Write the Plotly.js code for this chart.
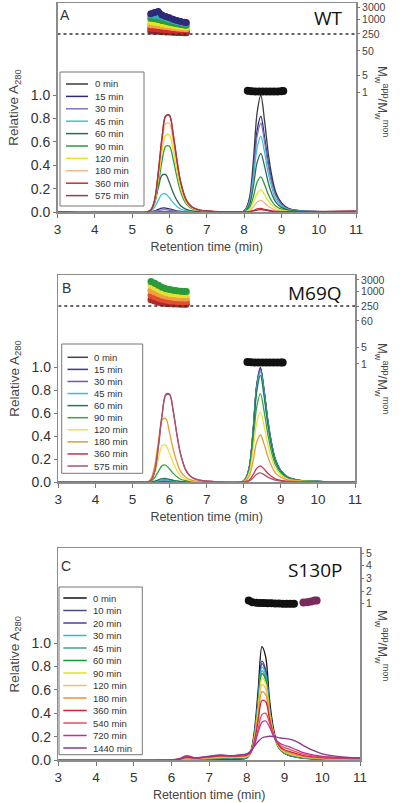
<!DOCTYPE html>
<html><head><meta charset="utf-8">
<script src="https://cdn.plot.ly/plotly-3.0.1.min.js"></script>
<style>html,body{margin:0;padding:0;background:#fff}#chart{width:400px;height:803px}</style>
</head><body><div id="chart"></div>
<script>
// ---------- Panel A / B chromatograms (retention time grid, min) ----------
const rtAB = [3, 5.4, 5.5, 5.6, 5.7, 5.8, 5.9, 6.0, 6.1, 6.2, 6.3, 6.45, 6.6, 6.8, 7.2, 7.95, 8.05, 8.15, 8.25, 8.35, 8.45, 8.55, 8.65, 8.75, 8.85, 9.0, 9.2, 9.5, 10, 11];

const namesA = ['0 min','15 min','30 min','45 min','60 min','90 min','120 min','180 min','360 min','575 min'];
const colorsA = ['#3a3a3a','#2e2a78','#7b74c4','#3fc0d8','#2f6a50','#2b9a3c','#e6e41c','#f3b88c','#d42a2a','#9c3a4c'];
const A_0   = [0, 0,0,0,0,0,0,0,0,0,0,0,0,0,0, 0,0.03,0.13,0.44,0.85,1.0,0.78,0.5,0.3,0.17,0.08,0.03,0.012,0.005,0];
const A_15  = [0, 0,0.002,0.009,0.022,0.033,0.034,0.026,0.018,0.01,0.006,0.002,0.001,0,0, 0,0.025,0.11,0.36,0.70,0.82,0.64,0.42,0.26,0.15,0.07,0.028,0.01,0.004,0];
const A_30  = [0, 0,0.001,0.005,0.012,0.019,0.02,0.015,0.01,0.006,0.003,0.001,0,0,0, 0,0.023,0.1,0.33,0.65,0.76,0.6,0.39,0.24,0.14,0.065,0.025,0.01,0.004,0];
const A_45  = [0, 0,0.008,0.04,0.1,0.152,0.155,0.12,0.08,0.048,0.026,0.011,0.005,0.002,0, 0,0.02,0.085,0.29,0.55,0.65,0.51,0.33,0.2,0.11,0.052,0.02,0.008,0.003,0];
const A_60  = [0, 0,0.017,0.083,0.205,0.314,0.32,0.25,0.165,0.1,0.053,0.023,0.01,0.003,0, 0,0.015,0.065,0.22,0.425,0.5,0.39,0.25,0.15,0.085,0.04,0.015,0.006,0.002,0];
const A_90  = [0, 0,0.012,0.07,0.23,0.435,0.563,0.563,0.452,0.3,0.174,0.07,0.029,0.012,0.003, 0,0.009,0.039,0.132,0.255,0.3,0.234,0.15,0.09,0.051,0.024,0.009,0.004,0.002,0];
const A_120 = [0, 0,0.014,0.082,0.272,0.51,0.66,0.66,0.53,0.354,0.204,0.082,0.034,0.014,0.003, 0,0.006,0.025,0.084,0.16,0.19,0.148,0.095,0.057,0.032,0.015,0.006,0.003,0.001,0];
const A_180 = [0, 0,0.016,0.094,0.312,0.585,0.757,0.757,0.608,0.406,0.234,0.094,0.039,0.016,0.004, 0,0.003,0.013,0.044,0.085,0.1,0.078,0.05,0.03,0.017,0.008,0.003,0.002,0.001,0];
const A_360 = [0, 0,0.017,0.102,0.34,0.638,0.825,0.825,0.663,0.442,0.255,0.102,0.043,0.017,0.004, 0,0.001,0.004,0.013,0.026,0.03,0.023,0.015,0.009,0.005,0.003,0.002,0.002,0.003,0.008];
const A_575 = [0, 0,0.015,0.095,0.33,0.63,0.82,0.83,0.67,0.45,0.26,0.105,0.045,0.018,0.005, 0,0.001,0.003,0.009,0.017,0.02,0.016,0.01,0.006,0.004,0.003,0.003,0.003,0.004,0.01];

const namesB = namesA;
const colorsB = ['#444444','#3a3a8a','#6e5aa8','#35c0d0','#1d7a55','#3aa040','#f0e040','#e89a3a','#d03040','#a05870'];
const B_0   = [0, 0,0,0,0,0,0,0,0,0,0,0,0,0,0, 0,0.03,0.13,0.44,0.85,1.0,0.8,0.54,0.34,0.2,0.1,0.04,0.015,0.006,0];
const B_15  = [0, 0,0,0,0,0,0,0,0,0,0,0,0,0,0, 0,0.03,0.13,0.435,0.84,0.99,0.79,0.535,0.337,0.198,0.099,0.04,0.015,0.006,0];
const B_30  = [0, 0,0.001,0.003,0.006,0.01,0.01,0.008,0.005,0.003,0.002,0.001,0,0,0, 0,0.03,0.127,0.43,0.83,0.98,0.784,0.53,0.333,0.196,0.098,0.039,0.015,0.006,0];
const B_45  = [0, 0,0.001,0.005,0.012,0.019,0.02,0.015,0.01,0.006,0.003,0.001,0.001,0,0, 0,0.029,0.125,0.42,0.815,0.96,0.77,0.52,0.326,0.192,0.096,0.038,0.014,0.006,0];
const B_60  = [0, 0,0.002,0.008,0.019,0.029,0.03,0.023,0.015,0.009,0.005,0.002,0.001,0,0, 0,0.028,0.121,0.41,0.79,0.93,0.744,0.5,0.316,0.186,0.093,0.037,0.014,0.006,0];
const B_90  = [0, 0,0.008,0.038,0.093,0.143,0.146,0.113,0.075,0.045,0.024,0.011,0.005,0.002,0, 0,0.023,0.1,0.34,0.655,0.77,0.616,0.416,0.262,0.154,0.077,0.031,0.012,0.005,0];
const B_120 = [0, 0,0.017,0.083,0.205,0.314,0.32,0.25,0.165,0.1,0.053,0.023,0.01,0.003,0, 0,0.018,0.08,0.268,0.52,0.61,0.488,0.33,0.207,0.122,0.061,0.024,0.009,0.004,0];
const B_180 = [0, 0,0.029,0.143,0.353,0.542,0.553,0.428,0.285,0.171,0.091,0.04,0.017,0.006,0.001, 0,0.012,0.053,0.18,0.35,0.41,0.328,0.221,0.139,0.082,0.041,0.016,0.006,0.002,0];
const B_360 = [0, 0,0.016,0.095,0.316,0.593,0.766,0.766,0.616,0.411,0.237,0.095,0.04,0.016,0.004, 0,0.004,0.018,0.062,0.119,0.14,0.112,0.076,0.048,0.028,0.014,0.006,0.003,0.002,0.004];
const B_575 = [0, 0,0.014,0.09,0.31,0.585,0.757,0.76,0.615,0.41,0.24,0.097,0.041,0.016,0.004, 0,0.002,0.01,0.035,0.068,0.08,0.064,0.043,0.027,0.016,0.008,0.004,0.003,0.002,0.004];

// ---------- Panel C chromatograms ----------
const rtC = [3, 5.5, 6.0, 6.2, 6.4, 6.6, 6.8, 7.0, 7.3, 7.6, 7.9, 8.0, 8.1, 8.2, 8.3, 8.4, 8.5, 8.6, 8.7, 8.8, 8.9, 9.0, 9.1, 9.2, 9.35, 9.5, 9.75, 10.0, 10.5, 11];
const namesC = ['0 min','10 min','20 min','30 min','45 min','60 min','90 min','120 min','180 min','360 min','540 min','720 min','1440 min'];
const colorsC = ['#111111','#454a8a','#4a3fa8','#22c0d8','#4aa080','#0a9a3a','#e8e020','#f0c060','#f09030','#d02040','#e05060','#c03090','#8a3a8a'];
const C_0    = [0,0,0,0,0.003,0.005,0.006,0.008,0.01,0.01,0.012, 0.02,0.07,0.25,0.6,0.97,0.88,0.52,0.28,0.15,0.09,0.06,0.045,0.035,0.025,0.018,0.012,0.008,0.005,0.003];
const C_10   = [0,0,0,0.002,0.005,0.006,0.008,0.01,0.012,0.012,0.014, 0.02,0.065,0.22,0.53,0.845,0.77,0.46,0.25,0.14,0.085,0.058,0.045,0.035,0.026,0.019,0.013,0.009,0.006,0.004];
const C_20   = [0,0,0,0.002,0.006,0.007,0.009,0.012,0.014,0.014,0.016, 0.022,0.064,0.215,0.52,0.825,0.755,0.45,0.245,0.137,0.085,0.058,0.045,0.036,0.027,0.02,0.014,0.01,0.007,0.005];
const C_30   = [0,0,0,0.003,0.006,0.008,0.01,0.013,0.016,0.016,0.018, 0.024,0.063,0.21,0.5,0.795,0.73,0.44,0.24,0.135,0.085,0.06,0.047,0.038,0.028,0.021,0.015,0.011,0.007,0.005];
const C_45   = [0,0,0,0.003,0.007,0.009,0.011,0.014,0.018,0.018,0.02, 0.026,0.062,0.2,0.48,0.765,0.705,0.43,0.24,0.136,0.087,0.062,0.049,0.04,0.03,0.022,0.016,0.012,0.008,0.006];
const C_60   = [0,0,0,0.003,0.008,0.01,0.012,0.015,0.02,0.02,0.022, 0.028,0.062,0.195,0.465,0.74,0.685,0.42,0.24,0.138,0.09,0.065,0.052,0.042,0.032,0.024,0.018,0.013,0.009,0.007];
const C_90   = [0,0,0,0.004,0.01,0.012,0.014,0.018,0.024,0.024,0.026, 0.032,0.063,0.19,0.445,0.7,0.655,0.41,0.24,0.14,0.094,0.07,0.057,0.047,0.036,0.027,0.02,0.015,0.01,0.008];
const C_120  = [0,0,0,0.005,0.012,0.014,0.016,0.02,0.028,0.028,0.03, 0.035,0.062,0.18,0.41,0.645,0.61,0.39,0.235,0.142,0.098,0.075,0.062,0.052,0.04,0.03,0.022,0.017,0.012,0.01];
const C_180  = [0,0,0,0.006,0.015,0.016,0.018,0.024,0.032,0.03,0.034, 0.04,0.062,0.17,0.38,0.585,0.56,0.37,0.23,0.145,0.102,0.08,0.067,0.057,0.045,0.034,0.025,0.019,0.014,0.012];
const C_360  = [0,0,0.002,0.01,0.03,0.02,0.022,0.028,0.038,0.034,0.04, 0.045,0.065,0.16,0.34,0.51,0.5,0.35,0.225,0.15,0.11,0.09,0.078,0.067,0.053,0.04,0.03,0.022,0.017,0.015];
const C_540  = [0,0,0.003,0.012,0.04,0.022,0.024,0.03,0.04,0.036,0.045, 0.05,0.07,0.14,0.27,0.39,0.4,0.32,0.22,0.16,0.125,0.108,0.097,0.085,0.068,0.052,0.038,0.028,0.02,0.017];
const C_720  = [0,0,0.003,0.012,0.038,0.022,0.025,0.032,0.042,0.038,0.048, 0.052,0.072,0.13,0.24,0.325,0.335,0.285,0.21,0.165,0.14,0.128,0.118,0.105,0.085,0.065,0.046,0.034,0.024,0.02];
const C_1440 = [0,0,0.002,0.008,0.025,0.02,0.025,0.035,0.045,0.04,0.05, 0.055,0.08,0.12,0.16,0.19,0.2,0.205,0.203,0.197,0.19,0.186,0.182,0.175,0.155,0.125,0.085,0.055,0.03,0.02];

// ---------- Mw ratio (right axis) ----------
const mwRtAgg = [5.5, 5.6, 5.7, 5.8, 5.9, 6.0, 6.1, 6.2, 6.3, 6.4, 6.45];
const mwA_colors = ['#2e2a78','#2fb0b8','#2b9a3c','#e6e41c','#f0a050','#d42a2a','#8a2a30'];
const mwA_15  = [1700, 1900, 2100, 1500, 1300, 1150, 1000, 900, 820, 760, 730];
const mwA_45  = [1500, 1450, 1350, 1250, 1120, 1000, 900, 820, 750, 700, 680];
const mwA_90  = [1100, 1050, 980, 900, 830, 760, 700, 650, 610, 580, 570];
const mwA_120 = [800, 760, 720, 670, 630, 590, 560, 530, 510, 490, 480];
const mwA_180 = [600, 580, 560, 530, 500, 480, 460, 440, 425, 415, 410];
const mwA_360 = [430, 420, 405, 390, 375, 362, 352, 343, 336, 330, 328];
const mwA_575 = [330, 325, 318, 310, 303, 297, 292, 288, 285, 282, 280];

const mwB_colors = ['#2b9a3c','#e8e030','#f0a040','#e05030','#b02a2a'];
const mwB_90  = [2600, 2200, 1800, 1500, 1300, 1200, 1120, 1060, 1020, 1000, 1000];
const mwB_120 = [1800, 1500, 1250, 1050, 920, 850, 800, 770, 750, 740, 740];
const mwB_180 = [1100, 950, 820, 720, 650, 600, 570, 550, 540, 535, 535];
const mwB_360 = [700, 600, 530, 480, 440, 415, 400, 390, 385, 380, 380];
const mwB_575 = [450, 400, 360, 340, 320, 310, 305, 300, 298, 296, 295];

const mwRtMon = [8.1, 8.2, 8.3, 8.4, 8.5, 8.6, 8.7, 8.8, 8.9, 9.0, 9.05];
const mwA_mon = [1.15, 1.1, 1.08, 1.08, 1.08, 1.08, 1.08, 1.08, 1.08, 1.1, 1.12];
const mwB_mon = [1.2, 1.17, 1.15, 1.15, 1.15, 1.15, 1.15, 1.14, 1.14, 1.15, 1.16];

const mwRtC = [8.05, 8.15, 8.25, 8.35, 8.45, 8.55, 8.65, 8.75, 8.85, 8.95, 9.05, 9.15, 9.25];
const mwC_mon = [1.25, 1.12, 1.08, 1.05, 1.05, 1.03, 1.03, 1.02, 1.02, 1.0, 1.0, 1.0, 1.0];
const mwRtC2 = [9.5, 9.6, 9.7, 9.8, 9.85];
const mwC_1440 = [1.1, 1.12, 1.18, 1.25, 1.25];
const mwThreshold = 250;

const rightTicksA = [1, 5, 50, 250, 1000, 3000];
const rightTicksB = [1, 5, 60, 250, 1000, 3000];
const rightTicksC = [1, 2, 3, 4, 5];
const leftTicks = [0, 0.2, 0.4, 0.6, 0.8, 1.0];
const xTicks = [3, 4, 5, 6, 7, 8, 9, 10, 11];

// ---------- build ----------
const W = 400, H = 803;
const px = x => x / W, py = y => 1 - y / H;
const FONT = 'Liberation Sans, Arial, sans-serif';

const panels = [
  {xa:'x', ya:'y', yr:'y4', series:[A_0,A_15,A_30,A_45,A_60,A_90,A_120,A_180,A_360,A_575], rt:rtAB, names:namesA, colors:colorsA,
   box:[57.5,356,3,212], yTop:1.79, rLog:true, rRange:[-4.93,3.67], rTicks:rightTicksA,
   leg:{box:[60,72,144,206], y0:84, step:12.4, l0:66, l1:88, tx:93},
   letter:[65,15,'A'], label:[328,18,'WT'], rTitle:[382,101]},
  {xa:'x2', ya:'y2', yr:'y5', series:[B_0,B_15,B_30,B_45,B_60,B_90,B_120,B_180,B_360,B_575], rt:rtAB, names:namesB, colors:colorsB,
   box:[58.3,355,275,482], yTop:1.805, rLog:true, rRange:[-4.88,3.68], rTicks:rightTicksB,
   leg:{box:[61.7,344,142.7,473.3], y0:357.3, step:12.08, l0:67.5, l1:88, tx:91.5},
   letter:[66.7,288,'B'], label:[315,293,'M69Q'], rTitle:[382,378]},
  {xa:'x3', ya:'y3', yr:'y6', series:[C_0,C_10,C_20,C_30,C_45,C_60,C_90,C_120,C_180,C_360,C_540,C_720,C_1440], rt:rtC, names:namesC, colors:colorsC,
   box:[58.3,360,548,760.3], yTop:1.81, rLog:false, rRange:[-11.36,5.4], rTicks:rightTicksC,
   leg:{box:[59,587,142.3,754.7], y0:598, step:12.5, l0:63.3, l1:86.7, tx:91},
   letter:[66,566,'C'], label:[315,570,'S130P'], rTitle:[382,645]}
];

const traces = [];
const shapes = [];
const annotations = [];
const layout = {
  width: W, height: H, margin:{l:0,r:0,t:0,b:0,pad:0},
  paper_bgcolor:'#fff', plot_bgcolor:'#fff', showlegend:false,
  font:{family:FONT, color:'#333'}
};

panels.forEach((p, i) => {
  const n = i === 0 ? '' : String(i + 1);
  const rn = String(i + 4);
  const [x0, x1, yT, yB] = p.box;
  layout['xaxis' + n] = {
    domain:[px(x0), px(x1)], anchor:'y' + n, range:[3, 11], tickvals:xTicks,
    ticks:'outside', ticklen:4, tickcolor:'#777', showline:true, mirror:true,
    linecolor:'#8c8c8c', linewidth:1.5, showgrid:false, zeroline:false,
    tickfont:{size:13.5, color:'#333'},
    title:{text:'Retention time (min)', font:{size:12.5, color:'#444'}, standoff:6}
  };
  layout['yaxis' + n] = {
    domain:[py(yB), py(yT)], anchor:'x' + n, range:[0, p.yTop], tickvals:leftTicks, tickformat:'.1f',
    ticks:'outside', ticklen:3, tickcolor:'#777', showline:true, mirror:true,
    linecolor:'#8c8c8c', linewidth:1.5, showgrid:false, zeroline:false,
    tickfont:{size:14, color:'#333'},
    title:{text:'Relative A<sub>280</sub>', font:{size:13.5, color:'#444'}, standoff:9}
  };
  layout['yaxis' + rn] = {
    overlaying:'y' + n, anchor:'x' + n, side:'right', type:p.rLog ? 'log' : 'linear',
    range:p.rRange, tickvals:p.rTicks, ticktext:p.rTicks.map(String),
    ticks:'outside', ticklen:3, tickcolor:'#777', showline:false, showgrid:false, zeroline:false,
    tickfont:{size:10.5, color:'#444'}
  };
  p.series.forEach((ys, k) => {
    traces.push({x:p.rt, y:ys, xaxis:'x' + n, yaxis:'y' + n, type:'scatter', mode:'lines',
      name:p.names[k], line:{color:p.colors[k], width:1.3, shape:'spline', smoothing:0.9},
      hoverinfo:'skip'});
  });
  // legend box and entries
  const L = p.leg;
  shapes.push({type:'rect', xref:'paper', yref:'paper', x0:px(L.box[0]), x1:px(L.box[2]),
    y0:py(L.box[3]), y1:py(L.box[1]), line:{color:'#777', width:1}, fillcolor:'#fff', layer:'above'});
  p.names.forEach((nm, k) => {
    const yy = L.y0 + k * L.step;
    shapes.push({type:'line', xref:'paper', yref:'paper', x0:px(L.l0), x1:px(L.l1), y0:py(yy), y1:py(yy),
      line:{color:p.colors[k], width:1.5}, layer:'above'});
    annotations.push({xref:'paper', yref:'paper', x:px(L.tx), y:py(yy), text:nm, showarrow:false,
      xanchor:'left', yanchor:'middle', font:{size:9.5, color:'#333'}});
  });
  annotations.push({xref:'paper', yref:'paper', x:px(p.letter[0]), y:py(p.letter[1]), text:p.letter[2],
    showarrow:false, xanchor:'center', yanchor:'middle', font:{size:14, color:'#333'}});
  annotations.push({xref:'paper', yref:'paper', x:px(p.label[0]), y:py(p.label[1]), text:p.label[2],
    showarrow:false, xanchor:'center', yanchor:'middle', font:{size:19, color:'#111', family:'Open Sans, sans-serif'}});
  annotations.push({xref:'paper', yref:'paper', x:px(p.rTitle[0]), y:py(p.rTitle[1]),
    text:'M<sub>w</sub><sup>app</sup>/M<sub>w</sub><sup>mon</sup>', textangle:90, showarrow:false,
    xanchor:'center', yanchor:'middle', font:{size:13, color:'#444'}});
});

// Mw traces
function mwTrace(x, y, color, yaxis, xaxis, size) {
  return {x:x, y:y, xaxis:xaxis, yaxis:yaxis, type:'scatter', mode:'lines+markers',
    line:{color:color, width:size - 1, shape:'spline'}, marker:{color:color, size:size},
    hoverinfo:'skip'};
}
[mwA_575, mwA_360, mwA_180, mwA_120, mwA_90, mwA_45, mwA_15].forEach((ys, k, arr) => {
  traces.push(mwTrace(mwRtAgg, ys, mwA_colors[arr.length - 1 - k], 'y4', 'x', 7));
});
[mwB_575, mwB_360, mwB_180, mwB_120, mwB_90].forEach((ys, k, arr) => {
  traces.push(mwTrace(mwRtAgg, ys, mwB_colors[arr.length - 1 - k], 'y5', 'x2', 7));
});
traces.push(mwTrace(mwRtMon, mwA_mon, '#111', 'y4', 'x', 8));
traces.push(mwTrace(mwRtMon, mwB_mon, '#111', 'y5', 'x2', 8));
traces.push(mwTrace(mwRtC, mwC_mon, '#111', 'y6', 'x3', 8));
traces.push(mwTrace(mwRtC2, mwC_1440, '#7a2a5a', 'y6', 'x3', 8));
// dotted threshold lines at Mw ratio 250
[['x','y4'],['x2','y5']].forEach(([xa, ya]) => {
  traces.push({x:[3, 11], y:[mwThreshold, mwThreshold], xaxis:xa, yaxis:ya, type:'scatter', mode:'lines',
    line:{color:'#333', width:1.5, dash:'dot'}, hoverinfo:'skip'});
});

layout.shapes = shapes;
layout.annotations = annotations;
Plotly.newPlot('chart', traces, layout, {staticPlot:true, displayModeBar:false});
</script></body></html>
